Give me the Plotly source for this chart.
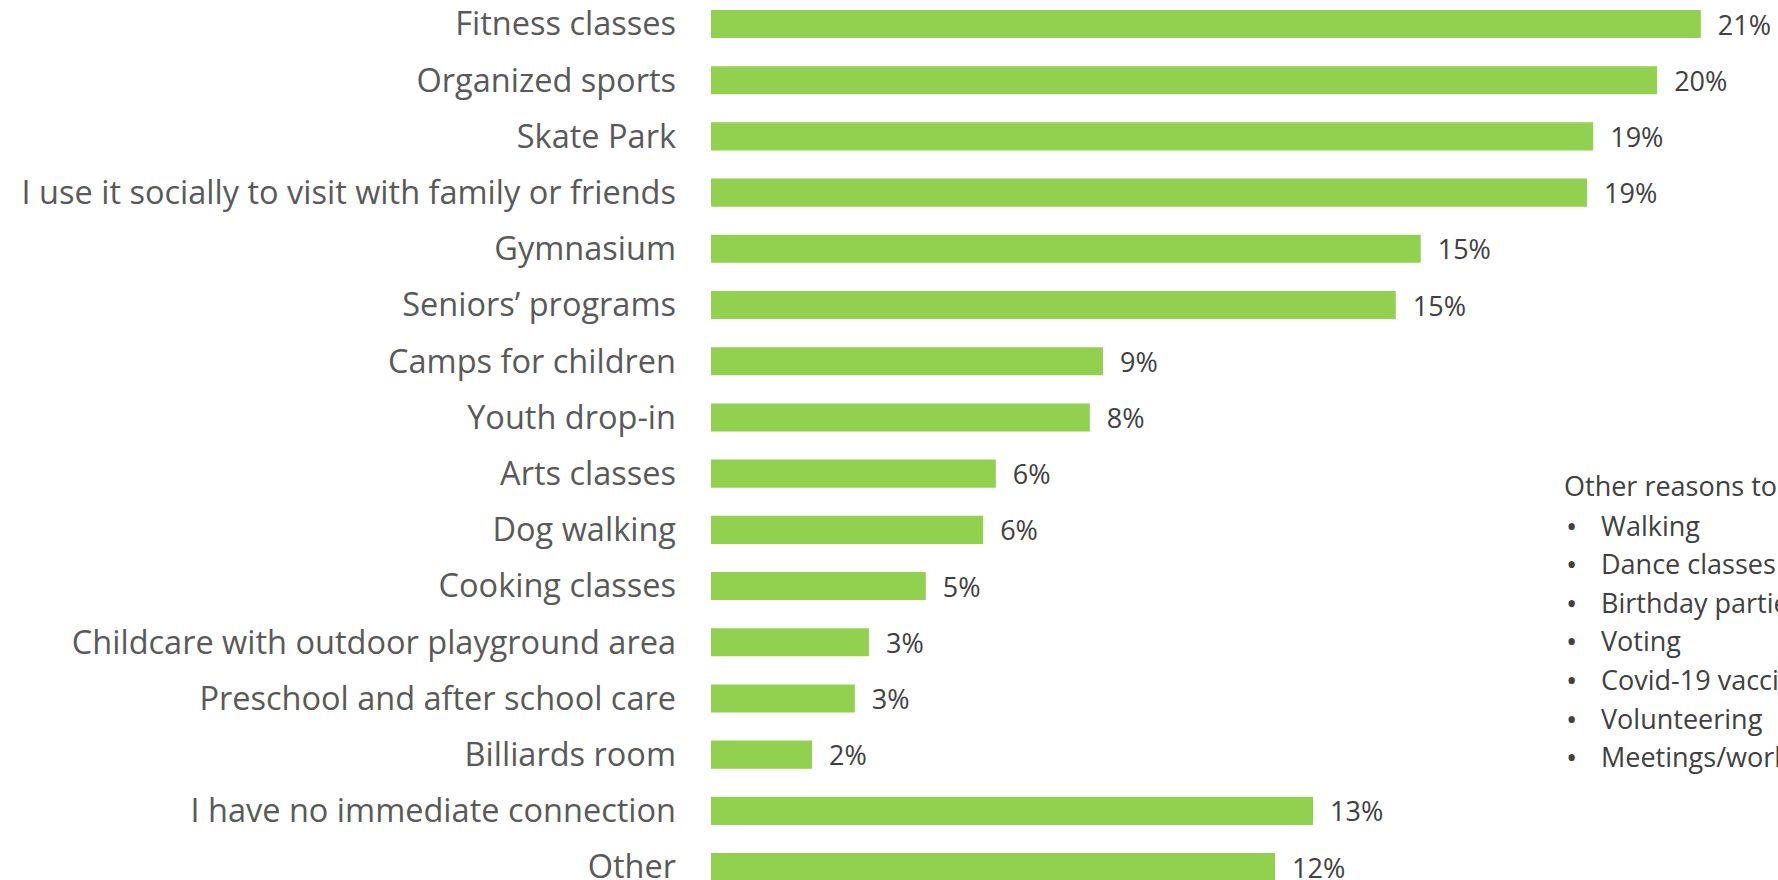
import plotly.graph_objects as go

categories = [
    "Fitness classes",
    "Organized sports",
    "Skate Park",
    "I use it socially to visit with family or friends",
    "Gymnasium",
    "Seniors\u2019 programs",
    "Camps for children",
    "Youth drop-in",
    "Arts classes",
    "Dog walking",
    "Cooking classes",
    "Childcare with outdoor playground area",
    "Preschool and after school care",
    "Billiards room",
    "I have no immediate connection",
    "Other",
]
values = [21.06, 20.13, 18.77, 18.64, 15.1, 14.57, 8.34, 8.06, 6.06, 5.79, 4.57, 3.36, 3.06, 2.15, 12.81, 12.0]
labels = ["21%", "20%", "19%", "19%", "15%", "15%", "9%", "8%", "6%", "6%", "5%", "3%", "3%", "2%", "13%", "12%"]

other_title = "Other reasons to use the centre:"
other_reasons = ["Walking", "Dance classes", "Birthday parties", "Voting",
                 "Covid-19 vaccinations", "Volunteering", "Meetings/workshops"]

FONT = "Open Sans"
W, H, L = 1778, 880, 711

fig = go.Figure()
fig.add_trace(go.Bar(
    x=values, y=categories, orientation="h",
    marker=dict(color="#92D050", line=dict(width=0)),
    width=0.5,
    text=labels, texttemplate="  %{text}", textposition="outside", cliponaxis=False,
    constraintext="none",
    textfont=dict(family=FONT, size=27, color="#404040"),
))

# text box on the right (pixel positions -> paper coords)
def px(x):
    return (x - L) / (W - L)

def py(y):
    return (H - y) / H

tfont = dict(family=FONT, size=27, color="#404040")
fig.add_annotation(x=px(1562), y=py(485), xref="paper", yref="paper", text=other_title,
                   showarrow=False, xanchor="left", yanchor="middle", font=tfont)
for i, r in enumerate(other_reasons):
    yy = py(525 + i * 38.6)
    fig.add_annotation(x=px(1571), y=yy, xref="paper", yref="paper", text="\u2022",
                       showarrow=False, xanchor="center", yanchor="middle",
                       font=dict(family=FONT, size=30, color="#404040"))
    fig.add_annotation(x=px(1599), y=yy, xref="paper", yref="paper", text=r,
                       showarrow=False, xanchor="left", yanchor="middle", font=tfont)

fig.update_layout(
    width=W, height=H,
    margin=dict(l=L, r=0, t=0, b=0),
    plot_bgcolor="white", paper_bgcolor="white",
    showlegend=False,
    xaxis=dict(range=[0, (W - L) / 47.0], visible=False, automargin=False),
    yaxis=dict(type="category", categoryorder="array", categoryarray=categories,
               range=[15.23, -0.427], showgrid=False, zeroline=False, showline=False,
               automargin=False, ticks="", ticklabelstandoff=34,
               tickfont=dict(family=FONT, size=32.5, color="#595959")),
)

fig.write_html("out.html", config={"displayModeBar": False},
               post_script="document.body.style.margin='0';")
